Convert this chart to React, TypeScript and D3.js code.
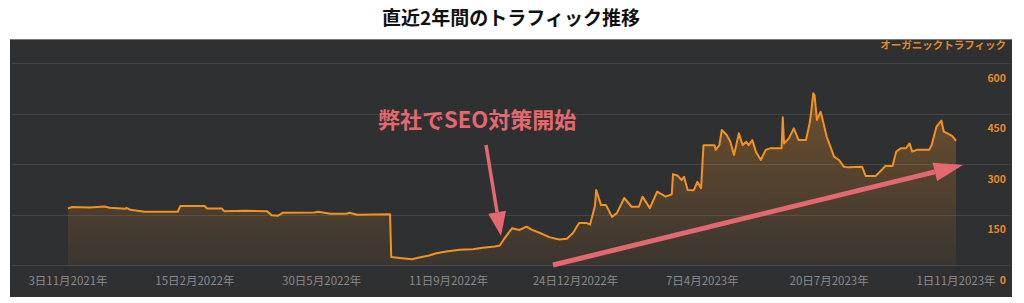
import React from "react";
import * as d3 from "d3";

const title = "直近2年間のトラフィック推移";
const legendLabel = "オーガニックトラフィック";
const annotation = "弊社でSEO対策開始";

const dates: string[] = [
  "2021-11-03","2021-11-06","2021-11-21","2021-12-03","2021-12-07","2021-12-20","2021-12-21","2021-12-24",
  "2022-01-05","2022-02-01","2022-02-03","2022-02-23","2022-02-25","2022-03-09","2022-03-11","2022-03-28",
  "2022-04-15","2022-04-19","2022-04-24","2022-04-28","2022-05-24","2022-05-27","2022-06-06","2022-06-19",
  "2022-06-22","2022-06-28","2022-07-25","2022-07-26","2022-08-02","2022-08-12","2022-08-18","2022-08-26",
  "2022-09-01","2022-09-09","2022-09-20","2022-10-01","2022-10-09","2022-10-19","2022-10-23","2022-10-27",
  "2022-11-02","2022-11-08","2022-11-14","2022-11-18","2022-11-25","2022-12-03","2022-12-11","2022-12-17",
  "2022-12-22","2022-12-27","2023-01-02","2023-01-05","2023-01-09","2023-01-10","2023-01-14","2023-01-18",
  "2023-01-23","2023-01-27","2023-02-02","2023-02-08","2023-02-14","2023-02-17","2023-02-23","2023-03-01",
  "2023-03-08","2023-03-13","2023-03-14","2023-03-18","2023-03-21","2023-03-23","2023-03-26","2023-03-31",
  "2023-04-03","2023-04-06","2023-04-08","2023-04-17","2023-04-18","2023-04-21","2023-04-23","2023-04-27",
  "2023-04-30","2023-05-03","2023-05-07","2023-05-10","2023-05-13","2023-05-15","2023-05-18","2023-05-21",
  "2023-05-25","2023-05-29","2023-06-02","2023-06-11","2023-06-12","2023-06-13","2023-06-17","2023-06-21",
  "2023-06-25","2023-07-01","2023-07-04","2023-07-05","2023-07-07","2023-07-08","2023-07-10","2023-07-13",
  "2023-07-15","2023-07-18","2023-07-22","2023-07-24","2023-07-28","2023-08-01","2023-08-05","2023-08-16",
  "2023-08-19","2023-08-27","2023-09-01","2023-09-04","2023-09-10","2023-09-13","2023-09-17","2023-09-21",
  "2023-09-24","2023-09-26","2023-09-30","2023-10-10","2023-10-12","2023-10-16","2023-10-20","2023-10-22",
  "2023-10-25","2023-10-29","2023-11-01",
];

const traffic: number[] = [
  168,172,171,174,170,167,170,164,
  158,158,175,175,168,168,160,161,
  160,148,146,155,156,158,152,152,
  155,149,151,24,21,17,22,28,
  35,40,45,47,51,55,58,80,
  109,104,114,105,95,82,76,78,
  95,125,125,120,175,223,178,178,
  143,154,199,173,173,203,169,218,
  203,210,270,265,252,262,223,222,
  247,228,356,356,342,356,401,386,
  366,327,391,356,366,356,371,336,
  312,342,347,347,439,361,376,406,
  371,371,421,446,510,505,431,455,
  426,381,342,322,312,292,290,292,
  264,264,282,294,294,337,347,347,
  361,337,342,342,356,411,429,396,
  391,383,369,
];

const xTickDates: string[] = [
  "2021-11-03","2022-02-15","2022-05-30","2022-09-11",
  "2022-12-24","2023-04-07","2023-07-20","2023-11-01",
];
const yTicks: number[] = [600, 450, 300, 150, 0];

const parse = d3.timeParse("%Y-%m-%d");
const fmtTick = (d: Date) =>
  `${d.getDate()}日${d.getMonth() + 1}月${d.getFullYear()}年`;

const PINK = "#e3686f";
const ORANGE = "#f3921f";

export default function App() {
  const data = dates.map((s, i) => ({ date: parse(s)!, value: traffic[i] }));

  const x = d3
    .scaleTime()
    .domain([parse("2021-11-03")!, parse("2023-11-01")!])
    .range([68, 956]);
  const y = d3.scaleLinear().domain([0, 600]).range([265, 63]);

  const line = d3
    .line<{ date: Date; value: number }>()
    .x((d) => x(d.date))
    .y((d) => y(d.value))
    .curve(d3.curveLinear);
  const area = d3
    .area<{ date: Date; value: number }>()
    .x((d) => x(d.date))
    .y0(y(0))
    .y1((d) => y(d.value))
    .curve(d3.curveLinear);

  const arrow = (
    x1: number, y1: number, x2: number, y2: number,
    headLen: number, headW: number, sw: number
  ) => {
    const ang = Math.atan2(y2 - y1, x2 - x1);
    const bx = x2 - headLen * Math.cos(ang);
    const by = y2 - headLen * Math.sin(ang);
    const px = -Math.sin(ang) * headW / 2;
    const py = Math.cos(ang) * headW / 2;
    return (
      <g>
        <line x1={x1} y1={y1} x2={bx} y2={by} stroke={PINK} strokeWidth={sw} />
        <polygon
          points={`${x2},${y2} ${bx + px},${by + py} ${bx - px},${by - py}`}
          fill={PINK}
        />
      </g>
    );
  };

  const font = "'Noto Sans CJK JP', 'Noto Sans', sans-serif";

  return (
    <svg
      width={1024}
      height={303}
      style={{ position: "absolute", left: 0, top: 0, background: "#fff" }}
      fontFamily={font}
    >
      <defs>
        <linearGradient id="fillGrad" x1="0" y1="0" x2="0" y2="1">
          <stop offset="0%" stopColor={ORANGE} stopOpacity={0.32} />
          <stop offset="100%" stopColor={ORANGE} stopOpacity={0.06} />
        </linearGradient>
      </defs>
      <text
        x={511}
        y={20}
        textAnchor="middle"
        dominantBaseline="middle"
        fontSize={19}
        fontWeight="bold"
        fill="#111"
      >
        {title}
      </text>
      <rect x={10} y={39} width={1002} height={258} fill="#2f3032" />
      <line x1={10} x2={1012} y1={39.5} y2={39.5} stroke="#777" strokeWidth={1} />
      {yTicks.map((t) => (
        <line
          key={"g" + t}
          x1={12}
          x2={1010}
          y1={Math.round(y(t)) + 0.5}
          y2={Math.round(y(t)) + 0.5}
          stroke="#44464a"
          strokeWidth={1}
        />
      ))}
      <path d={area(data) || ""} fill="url(#fillGrad)" />
      <path
        d={line(data) || ""}
        fill="none"
        stroke={ORANGE}
        strokeWidth={2}
        strokeLinejoin="round"
      />
      {yTicks.map((t) => (
        <text
          key={"y" + t}
          x={1006}
          y={y(t) + 16}
          textAnchor="end"
          dominantBaseline="middle"
          fontSize={10.5}
          fontWeight="bold"
          fill="#e8892a"
        >
          {t}
        </text>
      ))}
      {xTickDates.map((s) => {
        const d = parse(s)!;
        return (
          <text
            key={s}
            x={x(d)}
            y={282}
            textAnchor="middle"
            dominantBaseline="middle"
            fontSize={11.5}
            fill="#8a8a8a"
          >
            {fmtTick(d)}
          </text>
        );
      })}
      <text
        x={1006}
        y={46}
        textAnchor="end"
        dominantBaseline="middle"
        fontSize={10.5}
        fontWeight="bold"
        fill="#e08a2a"
      >
        {legendLabel}
      </text>
      <text
        x={378}
        y={122}
        dominantBaseline="middle"
        fontSize={22}
        fontWeight="bold"
        fill={PINK}
      >
        {annotation}
      </text>
      {arrow(486, 145, 501, 236, 24, 18, 3.5)}
      {arrow(553, 265, 963, 165, 29, 19, 5)}
    </svg>
  );
}
